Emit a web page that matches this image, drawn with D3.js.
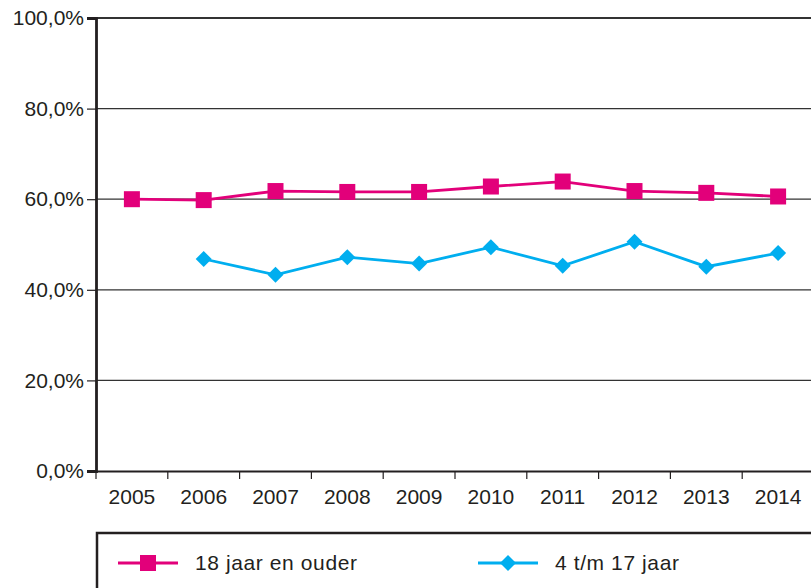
<!DOCTYPE html>
<html>
<head>
<meta charset="utf-8">
<script src="https://cdn.jsdelivr.net/npm/d3@7"></script>
<style>
  body { margin: 0; background: #fff; }
  svg { display: block; font-family: "Liberation Sans", Arial, sans-serif; }
</style>
</head>
<body>
<svg id="chart" width="811" height="588"></svg>
<script>
let years = [2005, 2006, 2007, 2008, 2009, 2010, 2011, 2012, 2013, 2014];
let adults = [60.0, 59.8, 61.8, 61.6, 61.6, 62.8, 63.9, 61.8, 61.4, 60.6];
let kids = [null, 46.8, 43.3, 47.2, 45.8, 49.4, 45.3, 50.6, 45.1, 48.1];
let yTicks = [0, 20, 40, 60, 80, 100];
let seriesNames = ["18 jaar en ouder", "4 t/m 17 jaar"];

let pink = "#e2007a", blue = "#00aeef", ink = "#231f20";

let margin = {top: 18, left: 96},
    width = 718,
    height = 453;

let svg = d3.select("#chart");
let g = svg.append("g")
  .attr("transform", "translate(" + margin.left + "," + margin.top + ")");

let x = d3.scaleBand().domain(years).range([0, width]);
let y = d3.scaleLinear().domain([0, 100]).range([height, 0]);

let nl = d3.formatLocale({decimal: ",", thousands: ".", grouping: [3], currency: ["€", ""]});
let fmt = nl.format(".1f");

// grid lines
g.selectAll(".grid").data(yTicks.filter(d => d > 0)).enter().append("line")
  .attr("x1", 0).attr("x2", width)
  .attr("y1", d => y(d)).attr("y2", d => y(d))
  .attr("stroke", "#333").attr("stroke-width", d => d == 100 ? 2 : 1.2);

// y axis
let yAxis = g.append("g")
  .call(d3.axisLeft(y).tickValues(yTicks).tickSize(9).tickPadding(3).tickFormat(d => fmt(d) + "%"));
yAxis.select(".domain").attr("stroke", ink).attr("stroke-width", 2.8);
yAxis.selectAll(".tick line").attr("stroke", ink).attr("stroke-width", 1.2);
yAxis.selectAll("text").attr("fill", ink).attr("font-size", 21);

// x axis
let xAxis = g.append("g")
  .attr("transform", "translate(0," + height + ")")
  .call(d3.axisBottom(x).tickSize(0).tickPadding(18));
xAxis.select(".domain").attr("stroke", ink).attr("stroke-width", 2.2);
xAxis.selectAll("text").attr("fill", ink).attr("font-size", 21);
xAxis.selectAll(".bound").data(years).enter().append("line")
  .attr("x1", d => x(d)).attr("x2", d => x(d))
  .attr("y1", 0).attr("y2", 8)
  .attr("stroke", ink).attr("stroke-width", 1.2);

let cx = d => x(d) + x.bandwidth() / 2;

let line = d3.line()
  .defined(d => d.v != null)
  .x(d => cx(d.year))
  .y(d => y(d.v));

let adultPts = years.map((yr, i) => ({year: yr, v: adults[i]}));
let kidPts = years.map((yr, i) => ({year: yr, v: kids[i]}));

g.append("path").datum(kidPts).attr("d", line)
  .attr("fill", "none").attr("stroke", blue).attr("stroke-width", 2.8);
g.append("path").datum(adultPts).attr("d", line)
  .attr("fill", "none").attr("stroke", pink).attr("stroke-width", 2.8);

let diamond = d3.symbol().type(d3.symbolSquare).size(128);

g.selectAll(".kid").data(kidPts.filter(d => d.v != null)).enter().append("path")
  .attr("d", diamond)
  .attr("transform", d => "translate(" + cx(d.year) + "," + y(d.v) + ") rotate(45)")
  .attr("fill", blue);

g.selectAll(".adult").data(adultPts).enter().append("rect")
  .attr("x", d => cx(d.year) - 8).attr("y", d => y(d.v) - 8)
  .attr("width", 16).attr("height", 16)
  .attr("fill", pink);

// legend
let legend = svg.append("g");
legend.append("rect")
  .attr("x", 97).attr("y", 533).attr("width", 740).attr("height", 80)
  .attr("fill", "none").attr("stroke", ink).attr("stroke-width", 2.5);

let items = [
  {name: seriesNames[0], color: pink, x0: 118, shape: "square"},
  {name: seriesNames[1], color: blue, x0: 478, shape: "diamond"}
];
items.forEach(function(it) {
  let ly = 563;
  legend.append("line")
    .attr("x1", it.x0).attr("x2", it.x0 + 60)
    .attr("y1", ly).attr("y2", ly)
    .attr("stroke", it.color).attr("stroke-width", 2.8);
  if (it.shape == "square") {
    legend.append("rect")
      .attr("x", it.x0 + 22).attr("y", ly - 8).attr("width", 16).attr("height", 16)
      .attr("fill", it.color);
  } else {
    legend.append("path").attr("d", diamond)
      .attr("transform", "translate(" + (it.x0 + 30) + "," + ly + ") rotate(45)")
      .attr("fill", it.color);
  }
  legend.append("text")
    .attr("x", it.x0 + 77).attr("y", ly).attr("dy", "0.35em")
    .attr("font-size", 21).attr("letter-spacing", 0.6).attr("fill", ink)
    .text(it.name);
});
</script>
</body>
</html>
